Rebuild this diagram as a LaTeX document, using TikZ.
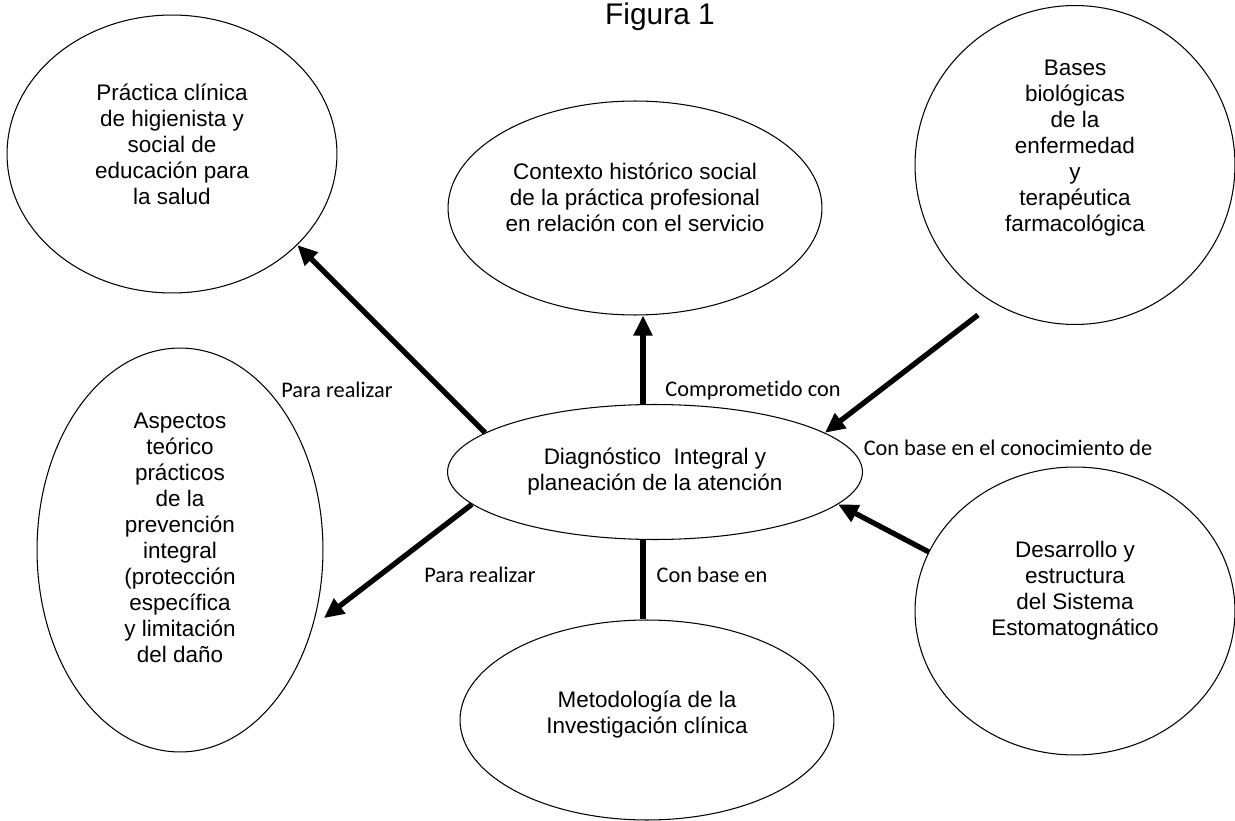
\documentclass[tikz,border=0pt]{standalone}
\usepackage{fontspec}
\setmainfont{Liberation Sans}
\newfontfamily\labelfont[Ligatures=NoCommon]{Carlito}
\usetikzlibrary{shapes.geometric, arrows.meta}

\begin{document}
\begin{tikzpicture}[x=0.02cm, y=-0.02cm,
  bubble/.style={draw, ellipse, line width=0.6pt, align=center, inner sep=0pt, font=\fontsize{12.8}{14.8}\selectfont},
  link/.style={line width=3pt, -{Triangle[length=0.4cm, width=0.36cm]}},
  tag/.style={inner sep=0pt, font=\labelfont\fontsize{12.7}{15}\selectfont}]
  \useasboundingbox (0,0) rectangle (1235,821);

  % Title
  \node[font=\fontsize{17}{20}\selectfont] (title) at (660,17) {Figura 1};

  % Bubbles
  \node[bubble, minimum width=8.3cm, minimum height=2.7cm] (diag) at (655,472) {Diagnóstico~ Integral y\\planeación de la atención};
  \node[bubble, minimum width=6.6cm, minimum height=5.56cm, text depth=0.4cm] (prac) at (172,154) {Práctica clínica\\de higienista y\\social de\\educación para\\la salud};
  \node[bubble, minimum width=7.48cm, minimum height=4.28cm, text depth=0.44cm] (ctx) at (635,208) {Contexto histórico social\\de la práctica profesional\\en relación con el servicio};
  \node[bubble, minimum width=6.4cm, minimum height=6.38cm, text depth=0.77cm] (bases) at (1075,165) {Bases\\biológicas\\de la\\enfermedad\\y\\terapéutica\\farmacológica};
  \node[bubble, minimum width=5.72cm, minimum height=8.08cm, text depth=0.48cm] (asp) at (180,550) {Aspectos\\teórico\\prácticos\\de la\\prevención\\integral\\(protección\\específica\\y limitación\\del daño};
  \node[bubble, minimum width=7.48cm, minimum height=4cm, text depth=0.33cm] (met) at (647,720) {Metodología de la\\Investigación clínica};
  \node[bubble, minimum width=6.4cm, minimum height=5.76cm, text depth=0.89cm] (des) at (1075,611) {Desarrollo y\\estructura\\del Sistema\\Estomatognático};

  % Arrows
  \draw[link] (diag.167) -- (prac.-36);
  \draw[link] (diag.100) -- (diag.100 |- ctx.south);
  \coordinate (bases-tail) at (978,315);
  \draw[link] (bases-tail) -- (diag.13);
  \draw[link] (des.158) -- (diag.-10.5);
  \draw[link, shorten >=0.28cm] (diag.190) -- (asp.-30);
  \draw[line width=3pt] (diag.260) -- (diag.260 |- met.north);

  % Labels
  \node[tag] (para-up) at (337,390) {Para realizar};
  \node[tag] (comp) at (753,391) {Comprometido con};
  \node[tag] (conoc) at (1008,448) {Con base en el conocimiento de};
  \node[tag] (para-down) at (480,575) {Para realizar};
  \node[tag] (base) at (712,575) {Con base en};

\end{tikzpicture}
\end{document}
